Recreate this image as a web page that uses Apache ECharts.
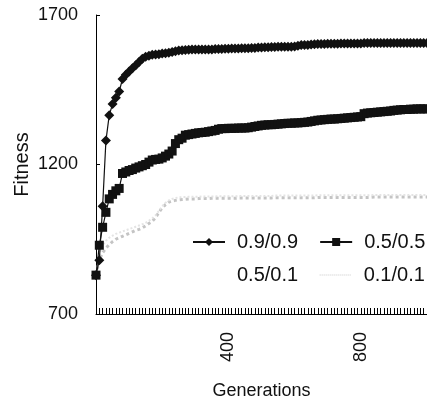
<!DOCTYPE html>
<html>
<head>
<meta charset="utf-8">
<script src="https://cdn.jsdelivr.net/npm/echarts@6/dist/echarts.min.js"></script>
<style>
  html, body { margin: 0; padding: 0; background: #fff; }
  #chart { width: 427px; height: 405px; }
</style>
</head>
<body>
<div id="chart"></div>
<script>
// generations, every 10
var gens = [
  0, 10, 20, 30, 40, 50, 60, 70, 80, 90,
  100, 110, 120, 130, 140, 150, 160, 170, 180, 190,
  200, 210, 220, 230, 240, 250, 260, 270, 280, 290,
  300, 310, 320, 330, 340, 350, 360, 370, 380, 390,
  400, 410, 420, 430, 440, 450, 460, 470, 480, 490,
  500, 510, 520, 530, 540, 550, 560, 570, 580, 590,
  600, 610, 620, 630, 640, 650, 660, 670, 680, 690,
  700, 710, 720, 730, 740, 750, 760, 770, 780, 790,
  800, 810, 820, 830, 840, 850, 860, 870, 880, 890,
  900, 910, 920, 930, 940, 950, 960, 970, 980, 990,
  1000
]

// fitness for each crossover/mutation setting
var fit99 = [
  830, 880, 1060, 1280, 1365, 1402, 1423, 1444, 1486, 1500,
  1511, 1522, 1532, 1543, 1554, 1560, 1564, 1567, 1568, 1569,
  1571, 1572, 1574, 1576, 1579, 1581, 1582, 1583, 1584, 1585,
  1585, 1585, 1585, 1585, 1585, 1585, 1586, 1586, 1586, 1587,
  1587, 1588, 1588, 1588, 1589, 1589, 1589, 1590, 1590, 1591,
  1591, 1592, 1592, 1593, 1593, 1594, 1594, 1594, 1594, 1594,
  1595, 1597, 1600, 1600, 1600, 1601, 1602, 1603, 1603, 1603,
  1604, 1604, 1604, 1604, 1605, 1605, 1605, 1605, 1605, 1605,
  1605, 1606, 1606, 1606, 1606, 1606, 1606, 1606, 1606, 1606,
  1606, 1606, 1606, 1606, 1606, 1606, 1606, 1606, 1606, 1606,
  1606
]
var fit55 = [
  830, 930, 990, 1040, 1085, 1100, 1112, 1120, 1170, 1175,
  1180, 1183, 1188, 1192, 1196, 1200, 1208, 1215, 1217, 1218,
  1222, 1228, 1235, 1245, 1270, 1283, 1288, 1298, 1300, 1302,
  1304, 1306, 1307, 1308, 1310, 1312, 1314, 1318, 1320, 1320,
  1321, 1321, 1321, 1322, 1322, 1322, 1323, 1325, 1327, 1329,
  1331, 1332, 1333, 1333, 1334, 1335, 1336, 1337, 1338, 1338,
  1339, 1339, 1340, 1341, 1342, 1344, 1346, 1348, 1349, 1350,
  1351, 1352, 1352, 1353, 1354, 1355, 1356, 1357, 1358, 1359,
  1360, 1370, 1372, 1373, 1374, 1375, 1376, 1377, 1378, 1379,
  1381, 1382, 1383, 1384, 1384, 1385, 1385, 1386, 1386, 1386,
  1386
]
var fit51 = [
  830, 900, 930, 945, 955, 962, 968, 972, 976, 980,
  984, 988, 992, 996, 1000, 1005, 1012, 1020, 1030, 1045,
  1060, 1072, 1080, 1085, 1088, 1090, 1091, 1091, 1092, 1092,
  1092, 1092, 1093, 1093, 1093, 1093, 1093, 1094, 1094, 1094,
  1094, 1094, 1094, 1094, 1095, 1095, 1095, 1095, 1095, 1095,
  1095, 1095, 1095, 1095, 1096, 1096, 1096, 1096, 1096, 1096,
  1096, 1096, 1096, 1096, 1096, 1096, 1096, 1097, 1097, 1097,
  1097, 1097, 1097, 1097, 1097, 1097, 1097, 1097, 1097, 1097,
  1097, 1097, 1097, 1097, 1098, 1098, 1098, 1098, 1098, 1098,
  1098, 1098, 1098, 1098, 1098, 1098, 1098, 1098, 1098, 1098,
  1098
]
var fit11 = [
  830, 880, 905, 920, 932, 942, 950, 955, 960, 965,
  970, 975, 980, 983, 988, 995, 1003, 1010, 1022, 1040,
  1055, 1066, 1074, 1078, 1080, 1082, 1083, 1084, 1085, 1085,
  1085, 1086, 1086, 1086, 1086, 1087, 1087, 1087, 1087, 1087,
  1087, 1087, 1087, 1088, 1088, 1088, 1088, 1088, 1088, 1088,
  1088, 1088, 1088, 1088, 1089, 1089, 1089, 1089, 1089, 1089,
  1089, 1089, 1089, 1089, 1089, 1089, 1089, 1090, 1090, 1090,
  1090, 1090, 1090, 1090, 1090, 1090, 1090, 1090, 1090, 1090,
  1090, 1090, 1090, 1090, 1091, 1091, 1091, 1091, 1091, 1091,
  1091, 1091, 1091, 1091, 1091, 1091, 1091, 1091, 1091, 1091,
  1091
]

var xLabels = [400, 800]
var yTicks = [700, 1200, 1700]

function pairs(vals) {
  return gens.map((g, i) => [g, vals[i]])
}

var chart = echarts.init(document.getElementById('chart'))

var legendText = { fontSize: 20, color: '#111', padding: [0, 0, 0, 7] }

var option = {
  animation: false,
  backgroundColor: '#fff',
  textStyle: { fontFamily: 'Liberation Sans, Arial, sans-serif' },
  grid: { left: 96, right: 0, top: 15, bottom: 91 },
  legend: [
    {
      data: ['0.9/0.9', '0.5/0.5'],
      left: 192, top: 232, padding: 0,
      itemWidth: 32, itemHeight: 10, itemGap: 21,
      textStyle: legendText
    },
    {
      data: [
        { name: '0.5/0.1', itemStyle: { opacity: 0 }, lineStyle: { opacity: 0 } },
        { name: '0.1/0.1', itemStyle: { opacity: 0 }, lineStyle: { width: 1, color: '#c8c8c8', type: 'dotted' } }
      ],
      left: 192, top: 265, padding: 0,
      itemWidth: 32, itemHeight: 10, itemGap: 21,
      textStyle: legendText
    }
  ],
  xAxis: {
    type: 'value',
    min: 0, max: 1000, interval: 10,
    name: 'Generations',
    nameLocation: 'middle',
    nameGap: 68,
    nameMoveOverlap: false,
    nameTextStyle: { fontSize: 18, color: '#111' },
    axisLine: { lineStyle: { color: '#000', width: 1 } },
    axisTick: { inside: true, length: 6, lineStyle: { color: '#000' } },
    axisLabel: {
      rotate: 90, margin: 18, fontSize: 18, color: '#111',
      formatter: v => xLabels.indexOf(v) >= 0 ? String(v) : ''
    },
    splitLine: { show: false }
  },
  yAxis: {
    type: 'value',
    min: yTicks[0], max: yTicks[2], interval: 500,
    name: 'Fitness',
    nameLocation: 'middle',
    nameGap: 64,
    nameMoveOverlap: false,
    nameTextStyle: { fontSize: 20, color: '#111' },
    axisLine: { show: true, lineStyle: { color: '#000', width: 1 } },
    axisTick: { show: true, inside: true, length: 4, lineStyle: { color: '#000' } },
    axisLabel: { margin: 18, fontSize: 18, color: '#111', formatter: v => String(v) },
    splitLine: { show: false }
  },
  series: [
    {
      name: '0.1/0.1', type: 'line', data: pairs(fit11),
      symbol: 'none', color: '#bdbdbd',
      lineStyle: { color: '#c4c4c4', width: 3, type: 'dotted' },
      z: 1
    },
    {
      name: '0.5/0.1', type: 'line', data: pairs(fit51),
      symbol: 'none', color: '#ececec',
      lineStyle: { color: '#e4e4e4', width: 2, type: 'dotted' },
      z: 1
    },
    {
      name: '0.5/0.5', type: 'line', data: pairs(fit55),
      symbol: 'rect', symbolSize: 9, color: '#111',
      lineStyle: { color: '#111', width: 1.2 },
      z: 3
    },
    {
      name: '0.9/0.9', type: 'line', data: pairs(fit99),
      symbol: 'diamond', symbolSize: 10, color: '#111',
      lineStyle: { color: '#111', width: 1.2 },
      z: 4
    }
  ]
}

chart.setOption(option)
</script>
</body>
</html>
